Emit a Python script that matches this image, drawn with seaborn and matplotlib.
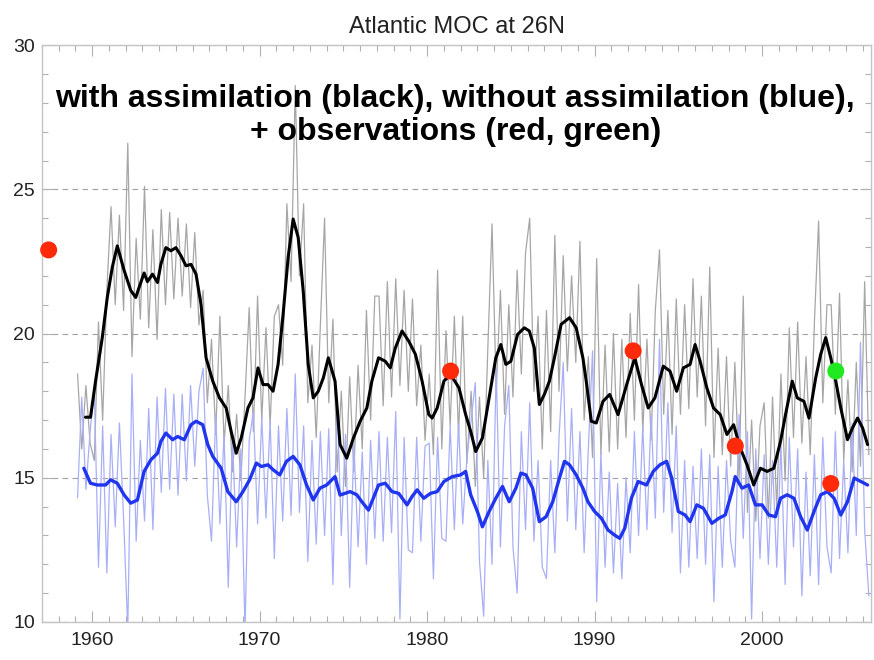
import numpy as np
import pandas as pd
import matplotlib.pyplot as plt
import seaborn as sns
from matplotlib.ticker import MultipleLocator

sns.set_theme(style="ticks")
plt.rcParams['font.family'] = ['Liberation Sans Narrow', 'Liberation Sans', 'DejaVu Sans']

# ---- data ----
# raw (quarterly) series start 1959.125, step 0.25 yr
raw_start = 1959.125
grey_raw = [
    18.6, 16.0, 18.2, 16.2,   # 1959
    15.6, 20.4, 17.0, 21.5,   # 1960
    24.4, 21.0, 24.1, 20.8,   # 1961
    26.6, 19.2, 23.3, 20.5,   # 1962
    25.1, 20.2, 23.6, 19.8,   # 1963
    24.3, 21.0, 24.2, 21.2,   # 1964
    24.0, 21.3, 23.8, 20.9,   # 1965
    23.5, 20.3, 21.5, 17.6,   # 1966
    19.8, 16.5, 20.6, 16.2,   # 1967
    18.2, 15.2, 17.2, 14.9,   # 1968
    17.8, 20.9, 16.6, 21.3,   # 1969
    17.0, 20.2, 16.8, 20.6,   # 1970
    21.0, 18.9, 24.5, 21.8,   # 1971
    28.6, 22.0, 24.5, 17.6,   # 1972
    19.6, 16.4, 20.3, 24.0,   # 1973
    17.6, 20.5, 15.2, 18.0,   # 1974
    14.7, 18.5, 15.2, 18.9,   # 1975
    16.0, 20.8, 17.0, 21.3,   # 1976
    21.3, 17.5, 21.8, 17.8,   # 1977
    21.9, 18.2, 21.5, 18.0,   # 1978
    21.2, 17.5, 19.6, 16.3,   # 1979
    18.6, 15.8, 22.2, 16.0,   # 1980
    20.1, 16.8, 20.6, 16.5,   # 1981
    20.6, 15.5, 18.0, 14.7,   # 1982
    17.8, 15.0, 19.5, 23.8,   # 1983
    18.0, 21.5, 17.2, 21.0,   # 1984
    17.8, 22.2, 18.6, 22.8,   # 1985
    24.0, 18.0, 20.6, 16.0,   # 1986
    20.8, 16.6, 23.4, 18.0,   # 1987
    22.7, 18.7, 22.0, 19.0,   # 1988
    23.2, 17.0, 19.2, 15.7,   # 1989
    22.6, 15.8, 19.6, 15.9,   # 1990
    20.0, 16.0, 19.8, 16.4,   # 1991
    20.7, 17.0, 21.7, 16.6,   # 1992
    19.8, 16.3, 20.8, 22.9,   # 1993
    17.2, 20.8, 16.5, 21.2,   # 1994
    17.2, 21.0, 17.4, 21.9,   # 1995
    17.8, 21.3, 16.8, 22.3,   # 1996
    15.7, 19.5, 15.8, 19.2,   # 1997
    15.4, 19.0, 14.9, 21.3,   # 1998
    13.8, 17.0, 13.5, 16.8,   # 1999
    17.6, 13.6, 17.8, 13.9,   # 2000
    18.6, 14.9, 20.2, 16.4,   # 2001
    20.4, 16.2, 19.2, 15.8,   # 2002
    20.4, 23.9, 17.6, 21.0,   # 2003
    21.0, 17.2, 21.4, 15.6,   # 2004
    18.4, 15.2, 19.0, 15.4,   # 2005
    21.8, 15.8,               # 2006
]
blue_raw = [
    14.3, 17.8, 14.6, 16.6,   # 1959
    18.1, 11.9, 16.8, 11.7,   # 1960
    16.5, 13.3, 16.9, 13.6,   # 1961
    9.7, 18.6, 12.8, 16.3,    # 1962
    13.5, 17.4, 13.2, 17.8,   # 1963
    14.5, 18.1, 14.6, 17.9,   # 1964
    14.4, 17.9, 14.9, 18.2,   # 1965
    15.4, 18.0, 18.8, 14.4,   # 1966
    12.8, 17.2, 13.4, 16.5,   # 1967
    11.2, 16.4, 12.6, 16.0,   # 1968
    9.7, 16.3, 17.3, 13.4,    # 1969
    17.1, 13.6, 17.0, 12.2,   # 1970
    16.8, 13.5, 17.4, 13.7,   # 1971
    18.6, 13.8, 16.8, 12.1,   # 1972
    16.3, 12.7, 16.6, 13.0,   # 1973
    16.7, 11.3, 17.8, 13.0,   # 1974
    16.5, 11.2, 16.2, 12.6,   # 1975
    15.9, 12.0, 16.3, 12.9,   # 1976
    16.6, 12.8, 16.4, 13.1,   # 1977
    17.3, 10.1, 16.4, 12.5,   # 1978
    12.4, 16.4, 12.8, 16.1,   # 1979
    16.2, 11.5, 16.4, 12.9,   # 1980
    12.8, 16.8, 13.2, 16.9,   # 1981
    13.4, 15.7, 17.0, 18.3,   # 1982
    12.1, 10.2, 15.6, 12.0,   # 1983
    18.8, 12.6, 16.8, 18.2,   # 1984
    12.6, 11.0, 16.6, 13.2,   # 1985
    17.6, 12.8, 15.6, 11.9,   # 1986
    11.5, 15.6, 12.4, 16.4,   # 1987
    19.0, 13.5, 17.4, 13.2,   # 1988
    16.6, 12.4, 16.0, 19.4,   # 1989
    10.7, 15.9, 11.9, 15.2,   # 1990
    11.7, 14.8, 11.5, 15.0,   # 1991
    12.4, 16.6, 13.0, 16.8,   # 1992
    13.2, 17.2, 13.6, 19.8,   # 1993
    13.8, 17.6, 13.1, 16.8,   # 1994
    11.7, 15.6, 11.9, 15.4,   # 1995
    12.2, 16.0, 12.0, 15.8,   # 1996
    10.7, 15.4, 11.9, 15.6,   # 1997
    12.8, 11.9, 17.2, 12.9,   # 1998
    16.6, 10.1, 16.0, 12.2,   # 1999
    15.8, 12.0, 15.6, 11.9,   # 2000
    16.2, 11.3, 16.4, 12.6,   # 2001
    16.0, 10.9, 15.2, 11.6,   # 2002
    15.8, 11.3, 16.4, 12.6,   # 2003
    11.7, 16.6, 12.2, 15.6,   # 2004
    12.4, 16.9, 13.0, 19.7,   # 2005
    13.2, 10.9,               # 2006
]

# smoothed, with assimilation (black)
black_years = [1959.6, 1959.9, 1960.2, 1960.6, 1960.9, 1961.2, 1961.5, 1961.9, 1962.3, 1962.6,
               1962.8, 1963.1, 1963.3, 1963.6, 1963.9, 1964.1, 1964.4, 1964.7, 1965.0, 1965.3,
               1965.6, 1965.9, 1966.2, 1966.5, 1966.8, 1967.2, 1967.6, 1968.0, 1968.3, 1968.6,
               1968.9, 1969.3, 1969.6, 1969.9, 1970.2, 1970.5, 1970.8, 1971.1, 1971.4, 1971.7,
               1972.0, 1972.3, 1972.6, 1972.9, 1973.2, 1973.5, 1973.8, 1974.1, 1974.5, 1974.8,
               1975.2, 1975.6, 1976.0, 1976.4, 1976.7, 1977.1, 1977.5, 1977.8, 1978.1, 1978.5,
               1978.9, 1979.3, 1979.7, 1980.1, 1980.3, 1980.6, 1981.0, 1981.4, 1981.9, 1982.3,
               1982.6, 1982.9, 1983.3, 1983.7, 1984.1, 1984.4, 1984.7, 1985.0, 1985.4, 1985.8,
               1986.1, 1986.4, 1986.7, 1987.0, 1987.3, 1987.6, 1988.0, 1988.5, 1988.9, 1989.3,
               1989.5, 1989.8, 1990.1, 1990.5, 1990.9, 1991.4, 1991.9, 1992.4, 1992.8, 1993.2,
               1993.6, 1994.1, 1994.5, 1994.9, 1995.3, 1995.7, 1996.0, 1996.3, 1996.7, 1997.1,
               1997.5, 1997.9, 1998.3, 1998.7, 1999.1, 1999.5, 1999.9, 2000.3, 2000.7, 2001.1,
               2001.4, 2001.8, 2002.1, 2002.5, 2002.8, 2003.2, 2003.5, 2003.8, 2004.1, 2004.4,
               2004.7, 2005.1, 2005.4, 2005.7, 2006.0, 2006.3]
black_smooth = [17.1, 17.1, 18.35, 19.85, 21.25, 22.3, 23.04, 22.2, 21.5, 21.25,
                21.6, 22.1, 21.8, 22.06, 21.77, 22.4, 22.98, 22.87, 22.98, 22.7,
                22.35, 22.4, 22.06, 21.0, 19.16, 18.35, 17.77, 17.42, 16.6, 15.85,
                16.38, 17.42, 17.77, 18.81, 18.23, 18.23, 18.0, 18.93, 20.67, 22.64,
                23.97, 23.33, 21.48, 18.93, 17.77, 18.0, 18.46, 19.16, 18.35, 16.15,
                15.68, 16.38, 16.96, 17.42, 18.35, 19.16, 19.04, 18.81, 19.5, 20.09,
                19.74, 19.28, 18.35, 17.19, 17.07, 17.42, 18.35, 18.58, 18.12, 17.19,
                16.61, 15.91, 16.38, 17.77, 19.16, 19.62, 18.93, 19.04, 19.97, 20.2,
                20.09, 19.5, 17.54, 17.89, 18.35, 19.16, 20.32, 20.55, 20.2, 19.16,
                18.35, 16.96, 16.9, 17.65, 17.89, 17.19, 18.2, 19.16, 18.23, 17.42,
                17.77, 18.87, 18.7, 18.0, 18.81, 18.93, 19.62, 19.04, 18.12, 17.42,
                17.19, 16.5, 16.84, 16.03, 15.45, 14.75, 15.33, 15.22, 15.33, 16.26,
                17.19, 18.35, 17.77, 17.65, 17.07, 18.46, 19.28, 19.86, 19.16, 18.35,
                17.42, 16.32, 16.73, 17.07, 16.73, 16.15]

# smoothed, without assimilation (blue)
blue_years = [1959.5, 1959.9, 1960.3, 1960.8, 1961.1, 1961.5, 1961.9, 1962.3, 1962.7, 1963.1,
              1963.5, 1963.9, 1964.1, 1964.4, 1964.8, 1965.1, 1965.5, 1965.9, 1966.2, 1966.6,
              1966.9, 1967.2, 1967.7, 1968.1, 1968.6, 1969.0, 1969.4, 1969.8, 1970.1, 1970.5,
              1970.8, 1971.2, 1971.6, 1972.0, 1972.4, 1972.8, 1973.2, 1973.6, 1974.0, 1974.5,
              1974.8, 1975.4, 1975.8, 1976.1, 1976.5, 1977.1, 1977.5, 1977.9, 1978.3, 1978.8,
              1979.1, 1979.4, 1979.8, 1980.2, 1980.6, 1981.0, 1981.5, 1982.0, 1982.3, 1982.6,
              1983.0, 1983.3, 1983.7, 1984.1, 1984.5, 1984.9, 1985.3, 1985.6, 1985.9, 1986.3,
              1986.7, 1987.1, 1987.5, 1987.9, 1988.2, 1988.5, 1988.9, 1989.3, 1989.6, 1990.0,
              1990.4, 1990.8, 1991.2, 1991.5, 1991.8, 1992.2, 1992.6, 1993.1, 1993.5, 1993.9,
              1994.3, 1994.6, 1995.0, 1995.4, 1995.7, 1996.1, 1996.5, 1997.0, 1997.4, 1997.8,
              1998.2, 1998.4, 1998.8, 1999.2, 1999.6, 2000.0, 2000.4, 2000.8, 2001.1, 2001.5,
              2001.9, 2002.3, 2002.7, 2003.1, 2003.5, 2003.9, 2004.3, 2004.7, 2005.1, 2005.5,
              2005.9, 2006.3]
blue_smooth = [15.33, 14.81, 14.75, 14.75, 14.93, 14.81, 14.41, 14.12, 14.23, 15.22,
               15.62, 15.85, 16.26, 16.55, 16.32, 16.43, 16.32, 16.84, 16.96, 16.84,
               16.15, 15.74, 15.33, 14.52, 14.17, 14.52, 14.93, 15.51, 15.39, 15.45,
               15.28, 15.1, 15.57, 15.74, 15.45, 14.75, 14.23, 14.64, 14.75, 15.04,
               14.4, 14.52, 14.41, 14.17, 13.88, 14.75, 14.81, 14.52, 14.46, 14.06,
               14.35, 14.58, 14.29, 14.46, 14.52, 14.87, 15.04, 15.1, 15.22, 14.41,
               13.83, 13.3, 13.83, 14.29, 14.7, 14.17, 14.64, 15.16, 15.1, 14.64,
               13.48, 13.65, 14.17, 14.99, 15.57, 15.45, 15.1, 14.64, 14.17, 13.83,
               13.6, 13.19, 13.01, 12.9, 13.25, 14.3, 14.87, 14.75, 15.22, 15.45,
               15.57, 14.99, 13.83, 13.71, 13.48, 14.06, 13.94, 13.42, 13.59, 13.71,
               14.52, 15.04, 14.64, 14.75, 14.06, 14.06, 13.71, 13.65, 14.29, 14.41,
               14.29, 13.65, 13.19, 13.83, 14.41, 14.52, 14.29, 13.71, 14.17, 14.99,
               14.87, 14.75]

# observations
obs_red_years = [1957.4, 1981.4, 1992.3, 1998.4, 2004.1]
obs_red_values = [22.9, 18.7, 19.4, 16.1, 14.8]
obs_green_years = [2004.4]
obs_green_values = [18.7]

raw_years = raw_start + 0.25 * np.arange(len(grey_raw))

# ---- plot ----
fig = plt.figure(figsize=(8.74, 6.6), dpi=100)
ax = fig.add_axes([0.048, 0.0576, 0.9485, 0.874])

sns.lineplot(x=raw_years, y=grey_raw, ax=ax, color='#a6a6a6', lw=0.9, estimator=None, sort=False)
sns.lineplot(x=raw_years, y=blue_raw, ax=ax, color='#a9aff7', lw=0.9, estimator=None, sort=False)
sns.lineplot(x=black_years, y=black_smooth, ax=ax, color='black', lw=2.2, estimator=None, sort=False)
sns.lineplot(x=blue_years, y=blue_smooth, ax=ax, color='#1f35ee', lw=2.4, estimator=None, sort=False)
sns.scatterplot(x=obs_red_years, y=obs_red_values, ax=ax, color='#ff2a0a', s=150,
                edgecolor='none', zorder=5, clip_on=False)
sns.scatterplot(x=obs_green_years, y=obs_green_values, ax=ax, color='#22e822', s=150,
                edgecolor='none', zorder=5)

ax.set_xlim(1957.0, 2006.5)
ax.set_ylim(10, 30)
ax.xaxis.set_major_locator(MultipleLocator(10))
ax.xaxis.set_minor_locator(MultipleLocator(1))
ax.yaxis.set_major_locator(MultipleLocator(5))
ax.yaxis.set_minor_locator(MultipleLocator(1))
ax.tick_params(which='both', direction='in', top=True, right=True, color='#b0b0b0',
               labelsize=14, labelcolor='#222222')
ax.tick_params(which='major', length=8, width=0.8)
ax.tick_params(which='minor', length=4, width=0.8)
ax.tick_params(axis='y', pad=5)
ax.tick_params(axis='x', pad=7)
for s in ax.spines.values():
    s.set_color('#c4c4c4')
    s.set_linewidth(1.0)
ax.grid(axis='y', which='major', linestyle=(0, (5, 4)), color='#a0a0a0', lw=0.8)
ax.set_axisbelow(True)
ax.set_xlabel('')
ax.set_ylabel('')

ax.set_title('Atlantic MOC at 26N', fontsize=17, color='#222222', pad=9)

fig.text(0.521, 0.825,
         'with assimilation (black), without assimilation (blue),\n+ observations (red, green)',
         ha='center', va='center', fontsize=23, fontweight='bold', color='black',
         family=['Liberation Sans', 'DejaVu Sans'], linespacing=1.12)

plt.savefig('out.png', dpi=100)
plt.close()
